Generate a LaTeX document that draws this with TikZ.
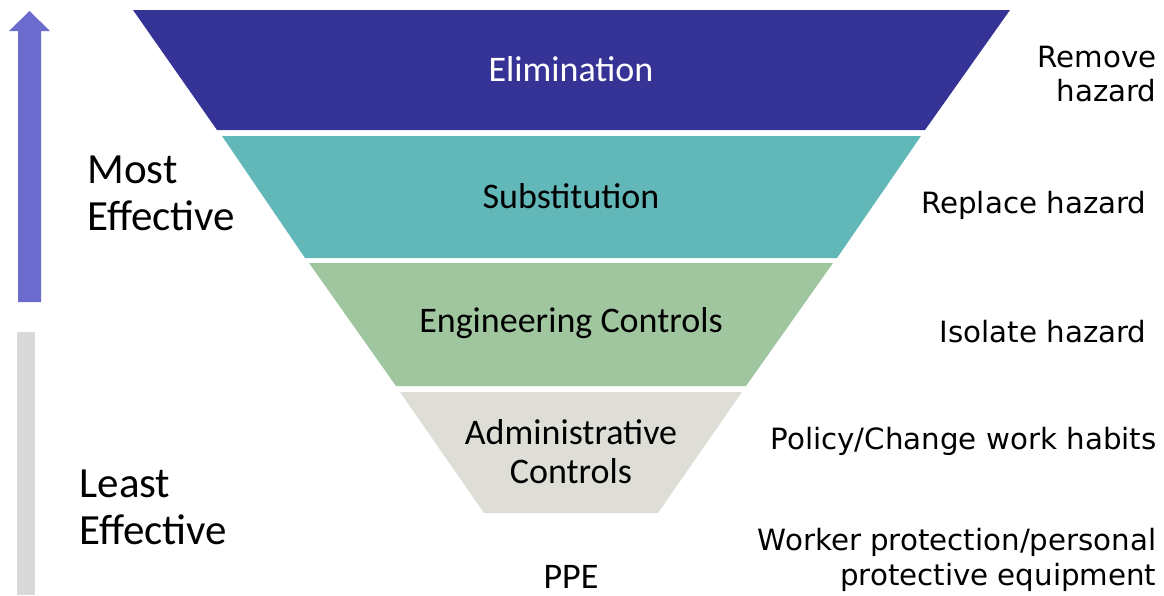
\documentclass[tikz,border=0pt]{standalone}
\usepackage{fontspec}
\setmainfont{Carlito}
\newfontfamily\notefont{DejaVu Sans}
\definecolor{elimblue}{HTML}{363397}
\definecolor{substteal}{HTML}{62B8B8}
\definecolor{enggreen}{HTML}{A0C6A0}
\definecolor{admingray}{HTML}{DEDED6}
\definecolor{arrowblue}{HTML}{6B6BCD}
\definecolor{bargray}{HTML}{D9D9D9}
\tikzset{
  band/.style={align=center, font=\fontsize{36}{39}\selectfont},
  side/.style={align=left, anchor=west, font=\fontsize{43}{47}\selectfont},
  note/.style={align=right, anchor=east, font=\notefont\fontsize{29.3}{34.5}\selectfont}
}
\begin{document}
\begin{tikzpicture}[x=1pt,y=-1pt]
\useasboundingbox (0,0) rectangle (1164,595);
% funnel
\fill [elimblue] (133,10) -- (1010,10) -- (925,130) -- (217,130) -- cycle;
\fill [substteal] (222,136) -- (921,136) -- (837,258) -- (305,258) -- cycle;
\fill [enggreen] (309,263) -- (833,263) -- (746,386) -- (396,386) -- cycle;
\fill [admingray] (400,392) -- (742,392) -- (658,513) -- (484,513) -- cycle;
\node [band, text=white] (elim) at (571,69) {Elimination};
\node [band] (subst) at (571,196) {Substitution};
\node [band] (eng) at (571,323) {Engineering Controls};
\node [band] (admin) at (571,452) {Administrative\\Controls};
\node [band, anchor=base, inner sep=0pt] (ppe) at (571,588) {PPE};
% arrow and bar
\fill [arrowblue] (18,302) -- (18,31) -- (9,31) -- (29.5,11) -- (50,31) -- (41,31) -- (41,302) -- cycle;
\fill [bargray] (17,332) rectangle (35,595);
\node [side] (most) at (84,193) {Most\\Effective};
\node [side] (least) at (76,507) {Least\\Effective};
% notes
\node [note] (remove) at (1160,74) {Remove\\hazard};
\node [note] (replace) at (1150,205) {Replace hazard};
\node [note] (isolate) at (1150,332) {Isolate hazard};
\node [note] (policy) at (1160,441) {Policy/Change work habits};
\node [note] (worker) at (1160,560) {Worker protection/personal\\protective equipment};
\end{tikzpicture}
\end{document}
